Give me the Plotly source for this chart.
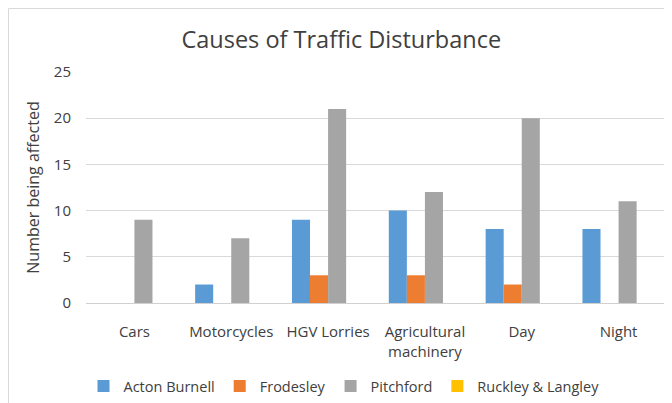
import plotly.graph_objects as go

categories = ["Cars", "Motorcycles", "HGV Lorries", "Agricultural<br>machinery", "Day", "Night"]
acton_burnell = [0, 2, 9, 10, 8, 8]
frodesley = [0, 0, 3, 3, 2, 0]
pitchford = [9, 7, 21, 12, 20, 11]
ruckley_langley = [0, 0, 0, 0, 0, 0]

series = [
    ("Acton Burnell", acton_burnell, "#5B9BD5"),
    ("Frodesley", frodesley, "#ED7D31"),
    ("Pitchford", pitchford, "#A5A5A5"),
    ("Ruckley & Langley", ruckley_langley, "#FFC000"),
]

FONT = "'Open Sans', sans-serif"

fig = go.Figure()
for name, values, color in series:
    fig.add_trace(go.Bar(x=categories, y=values, name=name, marker=dict(color=color, line=dict(width=0))))

# the page body adds an 8px offset, so the layout is laid out 8px up and left
fig.update_layout(
    width=672,
    height=403,
    margin=dict(l=78, r=13, t=64, b=108),
    paper_bgcolor="white",
    plot_bgcolor="white",
    barmode="group",
    bargap=0.254,
    bargroupgap=0,
    font=dict(family=FONT, color="#404040", size=15),
    title=dict(
        text="Causes of Traffic Disturbance",
        x=0.496, xref="container", xanchor="center",
        y=0.921, yref="container", yanchor="middle",
        font=dict(size=23.5, color="#404040"),
    ),
    legend=dict(
        orientation="h",
        xref="container", yref="container",
        x=0.5, xanchor="center",
        y=0.062, yanchor="middle",
        font=dict(size=14.5, color="#404040"),
        itemwidth=30,
        traceorder="normal",
    ),
    xaxis=dict(showgrid=False, showline=False, ticks="", tickfont=dict(size=15),
               ticklabelstandoff=18, automargin=False),
    yaxis=dict(
        range=[0, 25],
        dtick=5,
        gridcolor="#D9D9D9",
        gridwidth=1,
        zeroline=True,
        zerolinecolor="#D0D0D0",
        zerolinewidth=1,
        tickfont=dict(size=15),
        ticklabelstandoff=14,
        automargin=False,
        title=dict(text="Number being affected", font=dict(size=16), standoff=10),
    ),
    shapes=[
        dict(
            type="rect", xref="paper", yref="paper",
            x0=-0.1334, x1=1.1, y0=-0.6, y1=1.2749,
            line=dict(color="#D9D9D9", width=1),
            fillcolor="rgba(0,0,0,0)",
            layer="below",
        )
    ],
)

fig.write_html("out.html")
